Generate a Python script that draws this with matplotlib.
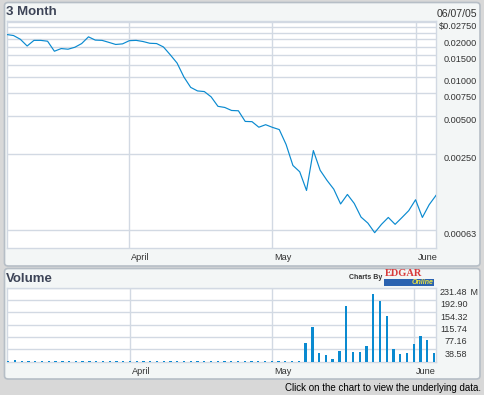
import matplotlib
matplotlib.use("Agg")
import matplotlib.pyplot as plt
import matplotlib.transforms as mtrans
from matplotlib.patches import FancyBboxPatch, Rectangle
from matplotlib.ticker import NullLocator

# ---------------- data ----------------
# trading-day index 0..63 (Mar 7 2005 .. Jun 6 2005)
price = [0.0218, 0.0214, 0.0200, 0.0177, 0.0196, 0.0196, 0.0193, 0.0161,
         0.0169, 0.0167, 0.0173, 0.0185, 0.0209, 0.0197, 0.0196, 0.0189,
         0.0182, 0.0184, 0.0195, 0.0196, 0.0192, 0.0186, 0.0185, 0.0174,
         0.0151, 0.0130, 0.0101, 0.00836, 0.00784, 0.00775, 0.00704, 0.00593,
         0.00581, 0.0055, 0.00547, 0.00451, 0.00449, 0.00406, 0.00425, 0.00405,
         0.00389, 0.00297, 0.00203, 0.00181, 0.00129, 0.00266, 0.00186, 0.00155,
         0.00132, 0.00101, 0.00120, 0.00102, 0.000796, 0.000714, 0.000600, 0.000698,
         0.000791, 0.000698, 0.000789, 0.000895, 0.00109, 0.000791, 0.000997, 0.00118]

volume = [3, 6, 3, 3, 3, 3, 3, 3, 3, 3, 3, 3, 3, 3, 3, 3,
          3, 3, 3, 3, 3, 3, 3, 3, 3, 3, 3, 3, 3, 3, 3, 3,
          3, 3, 3, 3, 3, 3, 3, 3, 3, 3, 3, 3, 59, 109, 28, 21,
          9, 33, 174, 31, 31, 49, 211, 190, 142, 39, 24, 28, 55, 80, 67, 27]

month_labels = ["April", "May", "June"]
month_index = [18, 39, 60]

price_grid = [0.0275, 0.025, 0.0225, 0.02, 0.0175, 0.015, 0.0125, 0.01,
              0.0075, 0.005, 0.0025, 0.00063]
price_tick_vals = [0.0275, 0.02, 0.015, 0.01, 0.0075, 0.005, 0.0025, 0.00063]
price_tick_labels = ["$0.02750", "0.02000", "0.01500", "0.01000", "0.00750",
                     "0.00500", "0.00250", "0.00063"]

vol_tick_vals = [38.58, 77.16, 115.74, 154.32, 192.90, 231.48]
vol_tick_labels = ["38.58", "77.16", "115.74", "154.32", "192.90", "231.48"]

date_text = "06/07/05"

# ---------------- style ----------------
W, H = 484, 395
BG = "#d8d8d8"
PANEL = "#f3f6f6"
PANEL_EDGE = "#b6bec6"
GRID = "#d2d9e3"
LINE = "#0a8ad0"
TITLE = "#3d4457"
TXT = "#333333"
FONT = "Liberation Sans"

plt.rcParams["font.family"] = [FONT, "DejaVu Sans"]

fig = plt.figure(figsize=(W / 100, H / 100), dpi=100, facecolor=BG)


def fx(px):
    return px / W


def fy(py):
    return 1 - py / H


def panel(x0, y0, x1, y1):
    p = FancyBboxPatch((fx(x0), fy(y1)), fx(x1 - x0), (y1 - y0) / H,
                       boxstyle="round,pad=0,rounding_size=0.008",
                       transform=fig.transFigure, facecolor=PANEL,
                       edgecolor=PANEL_EDGE, linewidth=1.2, zorder=-5)
    fig.patches.append(p)


panel(4.5, 2.5, 480, 266)
panel(4.5, 268.5, 480, 379)

# ---------------- price axes ----------------
ax1 = fig.add_axes([fx(6.7), fy(247.7), (436 - 6.7) / W, (247.7 - 21.3) / H])
ax1.set_zorder(2)
ax1.set_facecolor("white")
x = list(range(len(price)))
ax1.plot(x, price, color=LINE, lw=0.85, zorder=3)
ax1.set_yscale("log")
ax1.set_ylim(0.000457, 0.0277)
ax1.set_xlim(0, 63)
ax1.set_yticks(price_grid)
ax1.yaxis.set_minor_locator(NullLocator())
ax1.set_xticks(month_index)
ax1.tick_params(length=0, labelleft=False, labelbottom=False)
ax1.grid(True, color=GRID, lw=1.0)
for s in ax1.spines.values():
    s.set_color(GRID)
    s.set_linewidth(1.0)

tr = mtrans.offset_copy(ax1.get_yaxis_transform(), fig=fig, x=41, y=-4.5, units="dots")
for v, lab in zip(price_tick_vals, price_tick_labels):
    ax1.text(1, v, lab, transform=tr, ha="right", va="center", fontsize=6.6,
             color=TXT, clip_on=False)

trx = mtrans.offset_copy(ax1.get_xaxis_transform(), fig=fig, x=2, y=-9.5, units="dots")
for v, lab in zip(month_index, month_labels):
    ax1.text(v, 0, lab, transform=trx, ha="left", va="center", fontsize=6.6,
             color=TXT, clip_on=False)

# ---------------- volume axes ----------------
ax2 = fig.add_axes([fx(6.7), fy(361.7), (436 - 6.7) / W, (361.7 - 287.5) / H])
ax2.set_zorder(2)
ax2.set_facecolor("white")
ax2.bar(range(len(volume)), volume, width=0.34, color=LINE, zorder=3, linewidth=0)
ax2.set_ylim(0, 231.48)
ax2.set_xlim(-0.237, 63.3)
ax2.set_yticks(vol_tick_vals)
ax2.set_xticks(month_index)
ax2.tick_params(length=0, labelleft=False, labelbottom=False)
ax2.grid(True, color=GRID, lw=1.0)
for s in ax2.spines.values():
    s.set_color(GRID)
    s.set_linewidth(1.0)

tr2 = mtrans.offset_copy(ax2.get_yaxis_transform(), fig=fig, x=31.5, y=-5, units="dots")
for v, lab in zip(vol_tick_vals, vol_tick_labels):
    ax2.text(1, v, lab, transform=tr2, ha="right", va="center", fontsize=6.5,
             color=TXT, clip_on=False)
ax2.text(1, vol_tick_vals[-1], " M", transform=tr2, ha="left", va="center",
         fontsize=6.5, color=TXT, clip_on=False)

trx2 = mtrans.offset_copy(ax2.get_xaxis_transform(), fig=fig, x=2, y=-10.3, units="dots")
for v, lab in zip(month_index, month_labels):
    ax2.text(v, 0, lab, transform=trx2, ha="left", va="center", fontsize=6.6,
             color=TXT, clip_on=False)

# ---------------- titles / texts ----------------
fig.text(fx(5.5), fy(12), "3 Month", ha="left", va="center", fontsize=9.5,
         fontweight="bold", color=TITLE)
fig.text(fx(5.5), fy(278.5), "Volume", ha="left", va="center", fontsize=9.5,
         fontweight="bold", color=TITLE)
fig.text(fx(477.5), fy(14), date_text, ha="right", va="center", fontsize=7.6,
         color=TXT)
fig.text(fx(481), fy(388), "Click on the chart to view the underlying data.",
         ha="right", va="center", fontsize=7.0, color="black")

# EDGAR Online credit
fig.text(fx(382), fy(277.5), "Charts By", ha="right", va="center", fontsize=5.0,
         fontweight="bold", color=TXT)
fig.patches.append(Rectangle((fx(384), fy(285.5)), fx(50), 7 / H,
                             transform=fig.transFigure, facecolor="#2a62b0",
                             edgecolor="none", zorder=1))
fig.text(fx(385), fy(273.5), "EDGAR", ha="left", va="center", fontsize=7.5,
         fontweight="bold", family="Liberation Serif", color="#d83a3a")
fig.text(fx(411.5), fy(282.3), "Online", ha="left", va="center", fontsize=5.0,
         fontweight="bold", style="italic", color="#e8e040")

fig.savefig("out.png", dpi=100, facecolor=BG)
